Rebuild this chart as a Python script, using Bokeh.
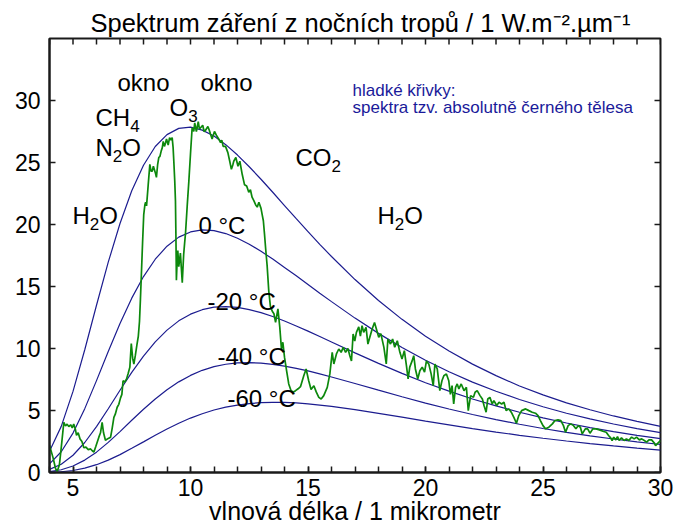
import math
from bokeh.plotting import figure
from bokeh.models import Range1d, FixedTicker, Label
from bokeh.embed import file_html
from bokeh.resources import INLINE

# ---------------- data ----------------
wavelength = [4, 4.5, 5, 5.5, 6, 6.5, 7, 7.5, 8, 8.5, 9, 9.5, 10, 10.5, 11, 11.5,
              12, 12.5, 13, 13.5, 14, 14.5, 15, 15.5, 16, 17, 18, 19, 20, 21, 22,
              23, 24, 25, 26, 27, 28, 29, 30]

bb_plus20 = [1.71, 3.72, 6.54, 9.90, 13.49, 16.96, 20.08, 22.72, 24.78, 26.29, 27.25,
             27.75, 27.85, 27.61, 27.13, 26.44, 25.60, 24.66, 23.65, 22.60, 21.53,
             20.47, 19.43, 18.40, 17.42, 15.56, 13.87, 12.35, 10.99, 9.80, 8.74,
             7.81, 6.98, 6.26, 5.62, 5.06, 4.56, 4.12, 3.72]
bb_0 = [0.70, 1.67, 3.18, 5.15, 7.41, 9.76, 12.02, 14.06, 15.80, 17.20, 18.25, 18.98,
        19.40, 19.56, 19.51, 19.27, 18.89, 18.41, 17.84, 17.21, 16.54, 15.86, 15.16,
        14.46, 13.78, 12.45, 11.22, 10.08, 9.05, 8.12, 7.29, 6.55, 5.89, 5.30, 4.78,
        4.32, 3.91, 3.54, 3.22]
bb_minus20 = [0.25, 0.66, 1.39, 2.42, 3.70, 5.14, 6.63, 8.07, 9.39, 10.53, 11.48,
              12.23, 12.77, 13.13, 13.33, 13.38, 13.31, 13.14, 12.89, 12.58, 12.22,
              11.82, 11.40, 10.97, 10.53, 9.65, 8.80, 7.99, 7.24, 6.56, 5.93, 5.37,
              4.86, 4.40, 3.99, 3.62, 3.29, 2.99, 2.73]
bb_minus40 = [0.07, 0.22, 0.52, 1.00, 1.64, 2.43, 3.30, 4.21, 5.10, 5.93, 6.68, 7.31,
              7.83, 8.24, 8.54, 8.73, 8.84, 8.86, 8.82, 8.72, 8.58, 8.40, 8.19, 7.95,
              7.70, 7.18, 6.64, 6.11, 5.60, 5.12, 4.68, 4.27, 3.89, 3.55, 3.24, 2.95,
              2.70, 2.47, 2.26]
bb_minus60 = [0.02, 0.06, 0.16, 0.35, 0.63, 1.00, 1.44, 1.95, 2.47, 3.00, 3.51, 3.97,
              4.39, 4.74, 5.04, 5.27, 5.44, 5.56, 5.63, 5.66, 5.65, 5.61, 5.54, 5.44,
              5.33, 5.07, 4.77, 4.46, 4.14, 3.84, 3.54, 3.26, 3.00, 2.76, 2.54, 2.33,
              2.14, 1.97, 1.81]

spec_x = [4.0, 4.15, 4.26, 4.33, 4.42, 4.5, 4.61, 4.68, 4.75, 4.82, 4.9, 4.97, 5.03,
          5.1, 5.15, 5.22, 5.3, 5.38, 5.46, 5.55, 5.65, 5.75, 5.82, 5.89, 5.97, 6.1,
          6.17, 6.24, 6.3, 6.38, 6.5, 6.6, 6.67, 6.74, 6.8, 6.88, 6.95, 7.02, 7.08,
          7.13, 7.2, 7.28, 7.35, 7.42, 7.48, 7.54, 7.59, 7.65, 7.72, 7.78, 7.83, 7.87,
          7.91, 7.96, 8.01, 8.06, 8.09, 8.13, 8.2, 8.27, 8.32, 8.37, 8.42, 8.5, 8.55,
          8.6, 8.65, 8.7, 8.75, 8.8, 8.84, 8.89, 8.94, 8.98, 9.05, 9.11, 9.17, 9.22,
          9.26, 9.29, 9.33, 9.36, 9.38, 9.4, 9.43, 9.46, 9.5, 9.54, 9.57, 9.61, 9.65,
          9.68, 9.71, 9.75, 9.79, 9.86, 9.93, 10.0, 10.07, 10.14, 10.18, 10.25, 10.33,
          10.38, 10.43, 10.52, 10.58, 10.64, 10.74, 10.8, 10.85, 10.92, 10.97, 11.02,
          11.1, 11.2, 11.28, 11.33, 11.39, 11.49, 11.55, 11.59, 11.67, 11.74, 11.8,
          11.84, 11.93, 12.02, 12.1, 12.2, 12.3, 12.39, 12.48, 12.55, 12.62, 12.7,
          12.77, 12.84, 12.91, 13.0, 13.05, 13.1, 13.15, 13.2, 13.26, 13.33, 13.4,
          13.48, 13.55, 13.62, 13.72, 13.8, 13.87, 13.93, 14.0, 14.09, 14.18, 14.28,
          14.38, 14.47, 14.58, 14.68, 14.82, 14.92, 15.03, 15.13, 15.25, 15.35, 15.46,
          15.56, 15.67, 15.82, 15.93, 16.03, 16.1, 16.21, 16.31, 16.41, 16.5, 16.6,
          16.7, 16.78, 16.85, 16.92, 16.99, 17.06, 17.16, 17.23, 17.3, 17.37, 17.47,
          17.55, 17.63, 17.73, 17.83, 17.91, 18.01, 18.1, 18.23, 18.33, 18.4, 18.51,
          18.6, 18.69, 18.8, 18.91, 19.0, 19.1, 19.19, 19.26, 19.33, 19.43, 19.5,
          19.57, 19.67, 19.76, 19.86, 19.96, 20.04, 20.14, 20.24, 20.33, 20.4, 20.5,
          20.61, 20.7, 20.78, 20.89, 20.99, 21.06, 21.13, 21.2, 21.28, 21.35, 21.42,
          21.52, 21.64, 21.74, 21.82, 21.92, 22.04, 22.11, 22.2, 22.32, 22.42, 22.49,
          22.58, 22.65, 22.74, 22.84, 22.91, 23.03, 23.13, 23.24, 23.34, 23.43, 23.55,
          23.65, 23.76, 23.87, 23.97, 24.09, 24.26, 24.4, 24.54, 24.68, 24.79, 24.89,
          25.0, 25.11, 25.25, 25.4, 25.51, 25.64, 25.76, 25.87, 25.96, 26.07, 26.18,
          26.3, 26.4, 26.5, 26.59, 26.67, 26.8, 26.9, 27.0, 27.12, 27.26, 27.4, 27.55,
          27.69, 27.79, 27.88, 27.94, 28.01, 28.1, 28.17, 28.24, 28.34, 28.45, 28.55,
          28.65, 28.77, 28.88, 28.98, 29.1, 29.2, 29.31, 29.41, 29.51, 29.62, 29.74,
          29.79, 29.89, 30.0]
spec_y = [2.2, 1.2, 0.3, 0.1, 0.6, 2.0, 4.05, 3.75, 3.9, 3.7, 3.85, 3.6, 3.9, 3.5, 3.0,
          3.2, 2.7, 2.5, 2.0, 2.05, 1.85, 1.9, 1.75, 1.65, 2.1, 2.85, 3.2, 4.05, 3.2,
          2.6, 2.75, 2.85, 3.6, 4.45, 4.7, 5.26, 5.5, 6.0, 6.3, 7.4, 7.3, 7.55, 8.0, 8.5,
          10.4, 9.2, 8.75, 9.4, 10.3, 11.0, 12.2, 14.0, 16.0, 18.5, 20.8, 21.6, 21.8,
          21.5, 23.2, 24.85, 24.3, 24.3, 24.7, 24.2, 23.8, 24.8, 25.4, 25.5, 25.9, 26.2,
          26.7, 26.3, 26.6, 26.9, 26.4, 27.0, 26.8, 27.0, 26.2, 25.1, 23.5, 21.9, 19.0,
          15.5, 17.0, 17.9, 16.6, 17.2, 17.7, 16.5, 15.3, 16.5, 17.6, 18.5, 19.35, 21.5,
          23.5, 25.7, 27.8, 27.5, 28.2, 27.5, 28.3, 27.7, 27.8, 28.0, 27.5, 27.6, 27.9,
          27.6, 27.3, 26.9, 27.2, 27.5, 27.2, 26.9, 26.6, 26.8, 26.3, 26.3, 26.0, 25.8,
          25.1, 24.45, 24.8, 25.1, 25.4, 24.7, 25.1, 24.05, 23.2, 23.1, 22.6, 22.8, 22.2,
          21.9, 21.6, 21.4, 21.8, 21.3, 20.8, 20.3, 19.2, 18.0, 16.7, 14.65, 13.4, 13.0,
          12.8, 12.1, 13.2, 11.7, 9.96, 10.5, 9.3, 8.2, 7.14, 6.6, 6.5, 6.6, 6.75, 6.92,
          7.8, 8.35, 7.4, 6.7, 7.0, 6.5, 6.06, 5.93, 6.2, 6.87, 7.95, 9.69, 8.75, 9.56,
          9.96, 9.69, 10.09, 9.69, 10.0, 9.42, 9.0, 11.17, 10.6, 11.3, 11.75, 11.0,
          11.84, 11.3, 11.7, 10.36, 10.9, 11.57, 12.1, 11.57, 10.9, 11.2, 10.09, 8.75,
          10.76, 10.36, 10.76, 10.1, 10.63, 9.69, 9.15, 9.82, 8.6, 7.54, 8.5, 9.0, 9.42,
          8.35, 7.54, 8.2, 8.5, 8.1, 9.0, 8.75, 7.95, 7.0, 8.75, 8.35, 6.6, 7.4, 7.8,
          7.95, 7.4, 6.3, 7.0, 5.53, 6.87, 7.14, 6.74, 7.14, 6.6, 6.87, 4.99, 6.2, 6.06,
          6.47, 6.6, 6.2, 5.93, 5.4, 4.86, 5.93, 6.06, 5.53, 5.8, 5.4, 5.66, 5.53, 5.66,
          4.99, 5.13, 4.86, 4.45, 3.97, 4.59, 4.99, 5.13, 4.99, 4.86, 4.78, 4.59, 4.19,
          3.78, 3.52, 3.65, 3.92, 4.19, 4.24, 4.19, 3.78, 3.25, 3.78, 3.92, 3.78, 3.52,
          3.78, 3.65, 3.11, 3.52, 3.52, 3.17, 3.52, 3.52, 3.44, 3.33, 3.25, 2.98, 2.79,
          2.58, 2.85, 2.63, 2.9, 2.58, 2.79, 2.58, 2.71, 2.58, 2.85, 2.71, 2.85, 2.63,
          2.71, 2.58, 2.45, 2.63, 2.63, 2.37, 2.17, 2.37, 2.58]

x_major_ticks = [5, 10, 15, 20, 25, 30]
x_minor_ticks = list(range(4, 31))
y_major_ticks = [0, 5, 10, 15, 20, 25, 30]

# ---------------- styling ----------------
FONT = "Liberation Sans"
BLUE = "#1c1c8f"
GREEN = "#0c880c"
AXIS = "#1a1a1a"
X0, X1, Y0, Y1 = 4, 30, 0, 35

p = figure(width=683, height=528, x_range=Range1d(X0, X1), y_range=Range1d(Y0, Y1),
           output_backend="svg", toolbar_location=None,
           min_border_left=49, min_border_right=23, min_border_top=38,
           min_border_bottom=56)
p.background_fill_color = "white"
p.border_fill_color = "white"
p.outline_line_color = AXIS
p.outline_line_width = 2
p.xgrid.visible = False
p.ygrid.visible = False

p.title.text = "Spektrum záření z nočních tropů / 1 W.m⁻².µm⁻¹"
p.title.text_font = FONT
p.title.text_font_size = "25.5px"
p.title.text_font_style = "normal"
p.title.text_color = "black"
p.title.align = "left"
p.title.offset = 41
p.title.standoff = 4


def style_axis(ax, ticks, minor):
    ax.ticker = FixedTicker(ticks=ticks, minor_ticks=minor)
    ax.axis_line_color = AXIS
    ax.axis_line_width = 2
    ax.major_tick_in = 6
    ax.major_tick_out = 0
    ax.minor_tick_in = 6
    ax.minor_tick_out = 0
    ax.major_tick_line_color = AXIS
    ax.major_tick_line_width = 1.5
    ax.minor_tick_line_color = AXIS if minor else None
    ax.minor_tick_line_width = 1.5
    ax.major_label_text_font = FONT
    ax.major_label_text_font_size = "23px"
    ax.major_label_text_color = "black"


style_axis(p.xaxis[0], x_major_ticks, x_minor_ticks)
p.xaxis[0].major_label_standoff = 6
p.xaxis[0].axis_label = "vlnová délka / 1 mikrometr"
p.xaxis[0].axis_label_text_font = FONT
p.xaxis[0].axis_label_text_font_size = "25px"
p.xaxis[0].axis_label_text_font_style = "normal"
p.xaxis[0].axis_label_text_color = "black"
p.xaxis[0].axis_label_standoff = -2
style_axis(p.yaxis[0], y_major_ticks, [])
p.yaxis[0].major_label_standoff = 9

# inward ticks on the top and right frame edges
p.ray(x=x_minor_ticks, y=Y1, length=6, angle=-math.pi / 2, length_units="screen",
      line_color=AXIS, line_width=1.5)
p.ray(x=X1, y=y_major_ticks, length=6, angle=math.pi, length_units="screen",
      line_color=AXIS, line_width=1.5)

# black-body curves
for series in (bb_plus20, bb_0, bb_minus20, bb_minus40, bb_minus60):
    p.line(wavelength, series, line_color=BLUE, line_width=1.2)

# measured spectrum
p.line(spec_x, spec_y, line_color=GREEN, line_width=1.7)

# ---------------- texts inside the frame ----------------
PX_PER_X = 611 / 26.0
PX_PER_Y = 434 / 35.0


def dx(px):
    return X0 + (px - 49) / PX_PER_X


def dy(py):
    return (472 - py) / PX_PER_Y


def add_text(txt, px, py, size, color="black"):
    p.add_layout(Label(x=dx(px), y=dy(py), text=txt, text_font=FONT,
                       text_font_size=f"{size}px", text_color=color,
                       text_align="left", text_baseline="alphabetic"))


EM = {"C": 0.722, "H": 0.722, "N": 0.722, "O": 0.778}


def formula(parts, px, py, size=24, sub_size=17):
    x = px
    for txt, is_sub in parts:
        if is_sub:
            add_text(txt, x, py + 8, sub_size)
            x += 0.556 * sub_size * len(txt)
        else:
            add_text(txt, x, py, size)
            x += sum(EM.get(c, 0.6) for c in txt) * size


add_text("okno", 117, 82, 24)
add_text("okno", 200, 82, 24)
formula([("CH", False), ("4", True)], 95, 117)
formula([("N", False), ("2", True), ("O", False)], 95, 147)
formula([("O", False), ("3", True)], 169, 107)
formula([("H", False), ("2", True), ("O", False)], 72, 215)
formula([("CO", False), ("2", True)], 295, 157)
formula([("H", False), ("2", True), ("O", False)], 377, 215)

add_text("0 °C", 198, 225, 24)
add_text("-20 °C", 207, 301, 24)
add_text("-40 °C", 217, 356, 24)
add_text("-60 °C", 227, 398, 24)

add_text("hladké křivky:", 352, 90, 17, color="#1a1a9a")
add_text("spektra tzv. absolutně černého tělesa", 352, 107, 17, color="#1a1a9a")

open("out.html", "w").write(file_html(p, INLINE))
